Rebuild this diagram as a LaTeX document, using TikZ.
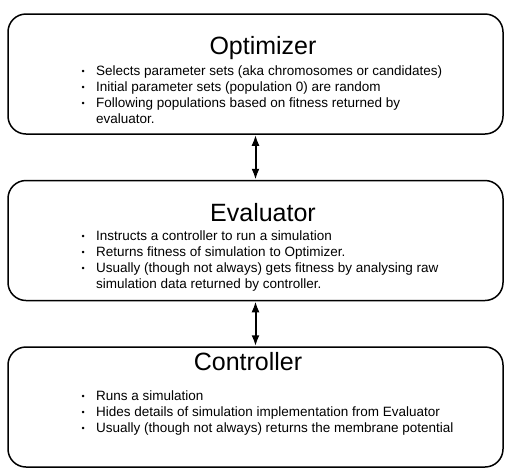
\documentclass[tikz,border=0pt]{standalone}
\usepackage{fontspec}
\setmainfont{Liberation Sans}
\usepackage{tikz}
\usetikzlibrary{arrows.meta,positioning}

\newcommand{\bul}{\makebox[8pt]{\raisebox{1pt}{\fontsize{9}{9}\selectfont\textbullet}}}

\begin{document}
\begin{tikzpicture}[
      x=1pt, y=-1pt, node distance=45pt,
      block/.style={rectangle, rounded corners=18pt, draw, line width=1.5pt, minimum width=495pt, minimum height=120pt},
      title/.style={font=\fontsize{25}{25}\selectfont},
      info/.style={anchor=north west, inner sep=0pt, font=\fontsize{13.5}{16}\selectfont},
      link/.style={{Latex[length=11pt,width=8pt]}-{Latex[length=11pt,width=8pt]}, line width=2pt}]

      \useasboundingbox (0,0) rectangle (519,475);

      % Boxes
      \node[block] (opt) at (255.5,74) {};
      \node[block, below=of opt] (eva) {};
      \node[block, below=of eva] (ctl) {};

      % Titles
      \node[title] (optT) at (263,48) {Optimizer};
      \node[title] (evaT) at (263,213) {Evaluator};
      \node[title] (ctlT) at (248,362) {Controller};

      % Bullets
      \node[info] (optL) at (79,63.8) {\begin{tabular}{@{}l@{\hspace{9pt}}l@{}}
        \bul & Selects parameter sets (aka chromosomes or candidates)\\
        \bul & Initial parameter sets (population 0) are random\\
        \bul & Following populations based on fitness returned by\\
             & evaluator.
      \end{tabular}};
      \node[info] (evaL) at (79,228.8) {\begin{tabular}{@{}l@{\hspace{9pt}}l@{}}
        \bul & Instructs a controller to run a simulation\\
        \bul & Returns fitness of simulation to Optimizer.\\
        \bul & Usually (though not always) gets fitness by analysing raw\\
             & simulation data returned by controller.
      \end{tabular}};
      \node[info] (ctlL) at (79,388.8) {\begin{tabular}{@{}l@{\hspace{9pt}}l@{}}
        \bul & Runs a simulation\\
        \bul & Hides details of simulation implementation from Evaluator\\
        \bul & Usually (though not always) returns the membrane potential
      \end{tabular}};

      % Edges
      \draw[link] (opt) -- (eva);
      \draw[link] (eva) -- (ctl);

\end{tikzpicture}
\end{document}
